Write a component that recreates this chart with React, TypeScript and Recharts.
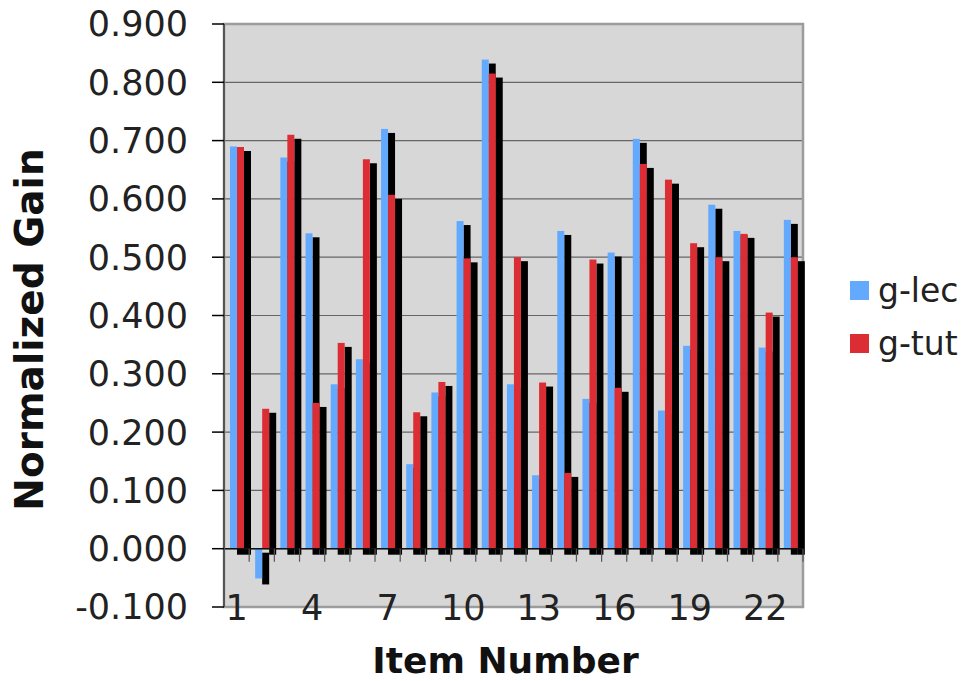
import { BarChart, Bar, XAxis, YAxis, CartesianGrid, ReferenceLine, ReferenceArea, Legend, Label } from 'recharts';

const items = ['1', '2', '3', '4', '5', '6', '7', '8', '9', '10', '11', '12', '13', '14', '15', '16', '17', '18', '19', '20', '21', '22', '23'];
const gLec = [0.690, -0.051, 0.671, 0.541, 0.282, 0.325, 0.720, 0.145, 0.268, 0.562, 0.839, 0.282, 0.126, 0.545, 0.257, 0.508, 0.703, 0.237, 0.348, 0.590, 0.545, 0.345, 0.564];
const gTut = [0.689, 0.240, 0.710, 0.250, 0.353, 0.668, 0.607, 0.234, 0.286, 0.498, 0.815, 0.500, 0.285, 0.130, 0.496, 0.276, 0.660, 0.633, 0.524, 0.500, 0.540, 0.405, 0.500];
const yTicks = [-0.1, 0, 0.1, 0.2, 0.3, 0.4, 0.5, 0.6, 0.7, 0.8, 0.9];
const labelledItems = ['1', '4', '7', '10', '13', '16', '19', '22'];

const data = items.map((item, i) => ({ item, lec: gLec[i], tut: gTut[i] }));

// layout of the plot box
const PLOT = { left: 224, right: 803, top: 24, bottom: 607 };
const Y_MIN = -0.1;
const Y_MAX = 0.9;
const band = (PLOT.right - PLOT.left) / items.length;
const zeroY = PLOT.top + ((Y_MAX - 0) / (Y_MAX - Y_MIN)) * (PLOT.bottom - PLOT.top);

const FONT = '"DejaVu Sans", Verdana, sans-serif';

// bar with the black drop shadow Excel draws
const ShadowBar = (props: any) => {
    const { x, y, width, height, fill } = props;
    if (x == null || y == null) return null;
    const top = height < 0 ? y + height : y;
    const h = Math.abs(height);
    return (
        <g>
            <rect x={x + width} y={top + 4} width={width} height={h + 2} fill="#000" />
            <rect x={x} y={top} width={width} height={h} fill={fill} />
        </g>
    );
};

const ItemTick = (props: any) => {
    const { x, y, payload } = props;
    const show = labelledItems.includes(String(payload.value));
    const bx = x + band / 2;
    return (
        <g>
            <line x1={bx} x2={bx} y1={zeroY} y2={zeroY + 13} stroke="#555" strokeWidth={1.2} />
            {show && (
                <text x={x} y={y + 13} textAnchor="middle" fontSize={35} fontFamily={FONT} fill="#222">
                    {payload.value}
                </text>
            )}
        </g>
    );
};

const LegendContent = ({ payload }: any) => (
    <div style={{ fontFamily: FONT, fontSize: 33, color: '#222' }}>
        {(payload || []).map((p: any) => (
            <div key={p.value} style={{ display: 'flex', alignItems: 'center', height: 53 }}>
                <div style={{ width: 19, height: 19, background: p.color, marginRight: 9 }} />
                <span>{p.value}</span>
            </div>
        ))}
    </div>
);

export default function App() {
    return (
        <div style={{ width: 962, height: 681, background: '#fff' }}>
            <style>{'body{margin:0}'}</style>
            <BarChart
                width={962}
                height={681}
                data={data}
                margin={{ top: PLOT.top, right: 962 - PLOT.right, bottom: 0, left: 0 }}
                barGap={0}
                barSize={7}
            >
                <CartesianGrid vertical={false} stroke="#666" strokeWidth={1.2} fill="#d7d7d7" fillOpacity={1} />
                <XAxis
                    dataKey="item"
                    height={681 - PLOT.bottom}
                    interval={0}
                    axisLine={false}
                    tickLine={false}
                    tickSize={0}
                    tickMargin={0}
                    tick={<ItemTick />}
                >
                    <Label
                        content={(p: any) => {
                            const vb = p.viewBox || {};
                            return (
                                <text x={vb.x + vb.width / 2 - 8} y={vb.y + 66} textAnchor="middle" fontSize={36} fontWeight="bold" fontFamily={FONT} fill="#111">
                                    Item Number
                                </text>
                            );
                        }}
                    />
                </XAxis>
                <YAxis
                    width={PLOT.left}
                    domain={[Y_MIN, Y_MAX]}
                    ticks={yTicks}
                    interval={0}
                    tickFormatter={(v: number) => v.toFixed(3)}
                    tick={{ fontSize: 35, fontFamily: FONT, fill: '#222' }}
                    tickSize={12}
                    tickMargin={24}
                    tickLine={{ stroke: '#000', strokeWidth: 1.5 }}
                    axisLine={{ stroke: '#555', strokeWidth: 2 }}
                >
                    <Label
                        content={(p: any) => {
                            const vb = p.viewBox || {};
                            const cx = vb.x + 43;
                            const cy = vb.y + vb.height / 2 + 14;
                            return (
                                <text x={cx} y={cy} transform={`rotate(-90 ${cx} ${cy})`} textAnchor="middle" fontSize={39} fontWeight="bold" fontFamily={FONT} fill="#111">
                                    Normalized Gain
                                </text>
                            );
                        }}
                    />
                </YAxis>
                <ReferenceArea y1={Y_MIN} y2={Y_MAX} fill="none" stroke="#9c9c9c" strokeWidth={2.5} />
                <ReferenceLine y={0} stroke="#111" strokeWidth={1.5} />
                <Bar dataKey="lec" name="g-lec" fill="#63AAFF" shape={<ShadowBar />} isAnimationActive={false} />
                <Bar dataKey="tut" name="g-tut" fill="#DD2D34" shape={<ShadowBar />} isAnimationActive={false} />
                <Legend
                    layout="horizontal"
                    verticalAlign="middle"
                    align="center"
                    wrapperStyle={{ left: 850, top: 264, width: 112 }}
                    content={<LegendContent />}
                />
            </BarChart>
        </div>
    );
}
